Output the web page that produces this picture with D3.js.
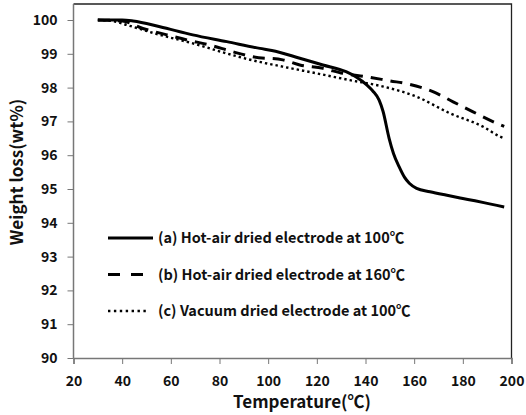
<!DOCTYPE html>
<html>
<head>
<meta charset="utf-8">
<script src="https://cdn.jsdelivr.net/npm/d3@7"></script>
<style>
  body { margin: 0; background: #fff; }
  text { font-family: "Noto Sans CJK KR", "Open Sans", sans-serif; font-weight: bold; fill: #111; }
</style>
</head>
<body>
<div id="chart"></div>
<script>
// TGA curves, temperature (C) vs weight (wt%)
const tempA = [30, 40, 44.5, 55.5, 69, 83, 96.6, 101.5, 113, 122.5, 132, 136, 140.5, 143, 145.6, 147.2, 149.7, 151.5, 153.8, 156, 158, 161, 166.5, 173, 180, 185, 191, 197];
const weightA = [100, 100, 99.97, 99.8, 99.56, 99.36, 99.16, 99.1, 98.87, 98.67, 98.47, 98.32, 98.08, 97.9, 97.63, 97.3, 96.5, 96.05, 95.66, 95.35, 95.17, 95.02, 94.92, 94.82, 94.72, 94.65, 94.56, 94.47];

const tempB = [30, 40, 48.5, 58.4, 66.6, 76, 85.5, 93.7, 106, 113, 122.5, 130.7, 140.5, 150, 158, 167.7, 176, 184, 194, 197];
const weightB = [100, 99.97, 99.75, 99.56, 99.41, 99.26, 99.06, 98.91, 98.82, 98.67, 98.57, 98.42, 98.32, 98.2, 98.1, 97.88, 97.58, 97.29, 96.94, 96.85];

const tempC = [30, 36, 42, 55.5, 69, 83, 94, 106, 120, 133.6, 147.3, 161, 174.7, 188.4, 195.3, 197];
const weightC = [100, 99.97, 99.85, 99.56, 99.31, 99.01, 98.8, 98.62, 98.42, 98.22, 98.03, 97.73, 97.24, 96.84, 96.55, 96.5];

const xTicks = [20, 40, 60, 80, 100, 120, 140, 160, 180, 200];
const yTicks = [90, 91, 92, 93, 94, 95, 96, 97, 98, 99, 100];
const legendLabels = [
  '(a) Hot-air dried electrode at 100\u2103',
  '(b) Hot-air dried electrode at 160\u2103',
  '(c) Vacuum dried electrode at 100\u2103'
];

const W = 526, H = 415;
const plotL = 73.5, plotR = 511.5, plotT = 4, y100 = 20, plotB = 358;

const svg = d3.select('#chart').append('svg')
  .attr('width', W)
  .attr('height', H);

const x = d3.scaleLinear().domain([20, 200]).range([plotL, plotR]);
const y = d3.scaleLinear().domain([90, 100]).range([plotB, y100]);

// plot frame (top/right)
svg.append('path')
  .attr('d', `M${plotL},${plotT}H${plotR}V${plotB}`)
  .attr('fill', 'none')
  .attr('stroke', '#222')
  .attr('stroke-width', 1.3);

// axes
const yAxis = svg.append('g')
  .attr('transform', `translate(${plotL},0)`)
  .call(d3.axisLeft(y).tickValues(yTicks).tickSize(6).tickPadding(10).tickFormat(d3.format('d')));
yAxis.select('.domain').attr('d', `M0,${plotT}V${plotB}`);

const xAxis = svg.append('g')
  .attr('transform', `translate(0,${plotB})`)
  .call(d3.axisBottom(x).tickValues(xTicks).tickSize(6).tickPadding(12).tickFormat(d3.format('d')));

[yAxis, xAxis].forEach((g) => {
  g.selectAll('.domain').attr('stroke', '#777').attr('stroke-width', 1.5);
  g.selectAll('.tick line').attr('stroke', '#777');
  g.selectAll('.tick text')
    .style('font-size', '14px')
    .style('font-family', '"Noto Sans CJK KR", sans-serif')
    .style('font-weight', 'bold')
    .attr('fill', '#111');
});

// axis titles
svg.append('text')
  .attr('x', 302)
  .attr('y', 408)
  .attr('text-anchor', 'middle')
  .style('font-size', '17px')
  .text('Temperature(\u2103)');

svg.append('text')
  .attr('transform', 'translate(23,172) rotate(-90)')
  .attr('text-anchor', 'middle')
  .style('font-size', '17px')
  .text('Weight loss(wt%)');

// series
const series = [
  { t: tempA, w: weightA, dash: null, width: 3 },
  { t: tempB, w: weightB, dash: '12,8', width: 3 },
  { t: tempC, w: weightC, dash: '2.4,3', width: 2.4 }
];

const line = d3.line()
  .x(d => x(d[0]))
  .y(d => y(d[1]))
  .curve(d3.curveMonotoneX);

series.forEach((s) => {
  svg.append('path')
    .datum(s.t.map((t, i) => [t, s.w[i]]))
    .attr('d', line)
    .attr('fill', 'none')
    .attr('stroke', '#000')
    .attr('stroke-width', s.width)
    .attr('stroke-dasharray', s.dash);
});

// legend
const legendY = [238, 274.5, 311];
const legendLen = [45, 35, 40];
const legendDash = [null, '12,11', '2.4,3.5'];
series.forEach((s, i) => {
  svg.append('line')
    .attr('x1', 108)
    .attr('x2', 108 + legendLen[i])
    .attr('y1', legendY[i])
    .attr('y2', legendY[i])
    .attr('stroke', '#000')
    .attr('stroke-width', s.width)
    .attr('stroke-dasharray', legendDash[i]);
  svg.append('text')
    .attr('x', 158)
    .attr('y', legendY[i])
    .attr('dy', '0.36em')
    .style('font-size', '14.5px')
    .text(legendLabels[i]);
});
</script>
</body>
</html>
